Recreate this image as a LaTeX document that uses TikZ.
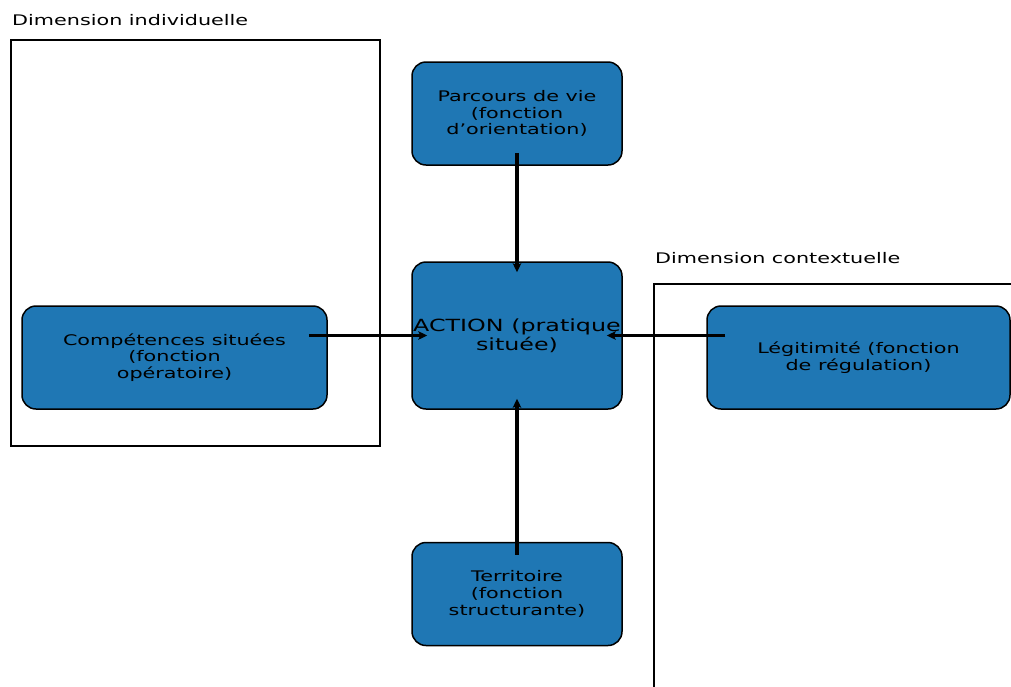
\documentclass[tikz,border=0pt]{standalone}
\usepackage{fontspec}
\setmainfont[FakeStretch=1.42]{DejaVu Sans}
\usetikzlibrary{arrows.meta,calc}
\definecolor{tabblue}{HTML}{1F77B4}
\begin{document}
\begin{tikzpicture}[x=1pt,y=-1pt,
  box/.style={draw=black, line width=1.5pt, fill=tabblue, rounded corners=14pt, align=center,
    font=\fontsize{14.6}{16.6}\selectfont, inner sep=0pt, minimum width=210pt, minimum height=103pt},
  frame/.style={draw=black, line width=2.6pt, inner sep=0pt},
  arr/.style={line width=2.4pt, -{Stealth[length=9pt,width=8.5pt,inset=2pt]}},
  varr/.style={arr, line width=3.4pt},
  dimlabel/.style={anchor=base west, font=\fontsize{14.6}{17}\selectfont, inner sep=0pt}]
\clip (0,0) rectangle (1011,686);
\fill[white] (0,0) rectangle (1011,686);
% frames
\node[frame, minimum width=369pt, minimum height=406pt] (indiv) at (195.5,243) {};
\node[frame, minimum width=420pt, minimum height=460pt] (ctx) at (864,514) {};
\node[dimlabel] (lindiv) at (12,25.5) {Dimension individuelle};
\node[dimlabel] (lctx) at (655,263) {Dimension contextuelle};
% boxes
\node[box] (par) at (517,113.5) {Parcours de vie\\(fonction\\d’orientation)};
\node[box, minimum height=147pt, font=\fontsize{16.75}{19.5}\selectfont] (act) at (517,335.5) {ACTION (pratique\\située)};
\node[box] (ter) at (517,594) {Territoire\\(fonction\\structurante)};
\node[box, minimum width=305pt] (comp) at (174.5,357.5) {Compétences situées\\(fonction\\opératoire)};
\node[box, minimum width=303pt] (leg) at (858.5,357.5) {Légitimité (fonction\\de régulation)};
% connectors
\draw[varr] ([yshift=13pt]par.south) -- ([yshift=-11pt]act.north);
\draw[varr] ([yshift=-13pt]ter.north) -- ([yshift=11pt]act.south);
\draw[arr] ([xshift=-19pt]comp.east |- act.west) -- ([xshift=16pt]act.west);
\draw[arr] ([xshift=19pt]leg.west |- act.east) -- ([xshift=-16pt]act.east);
\end{tikzpicture}
\end{document}
